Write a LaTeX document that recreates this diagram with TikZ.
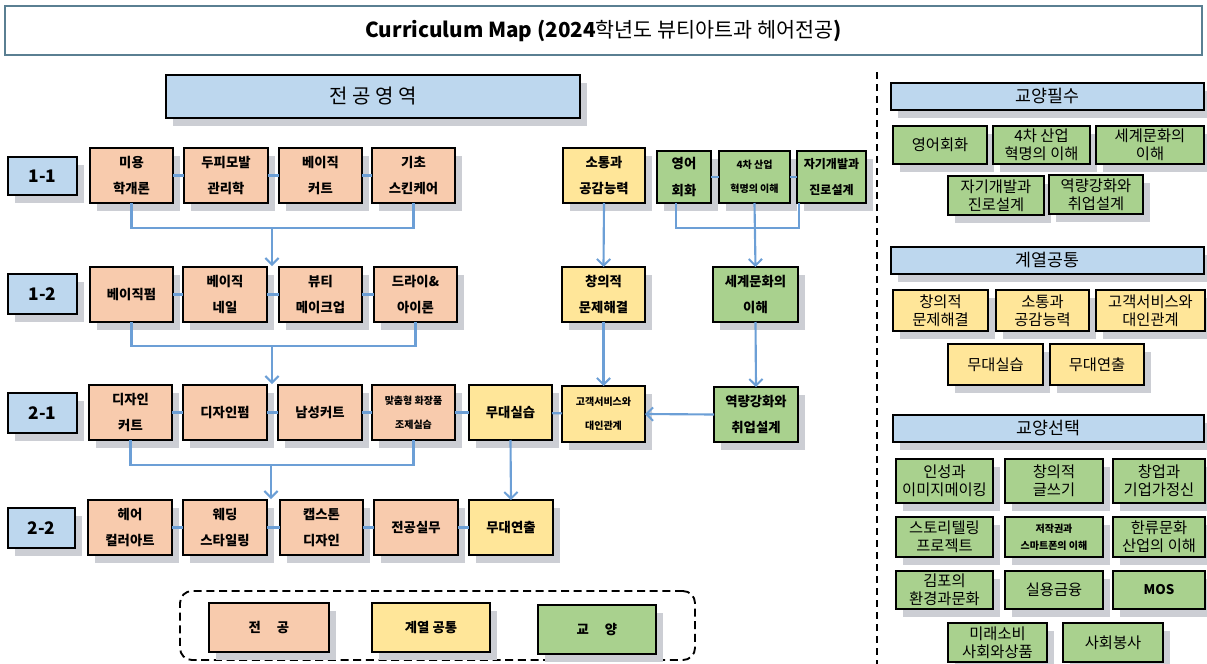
\documentclass[tikz,border=0pt]{standalone}
\usepackage{fontspec}
\setmainfont{Noto Sans CJK KR}
\usetikzlibrary{arrows.meta}
\definecolor{majc}{HTML}{F8CBAD}
\definecolor{comc}{HTML}{FFE699}
\definecolor{libc}{HTML}{A9D18E}
\definecolor{hdrc}{HTML}{BDD7EE}
\definecolor{connc}{HTML}{6C9FD6}
\definecolor{titlec}{HTML}{5A7F92}
\definecolor{shdc}{RGB}{204,206,212}
\newcommand\bxn[7]{\node[#6, minimum width={(#4-#2)*0.75pt}, minimum height={(#5-#3)*0.75pt}] (#1) at ({(#2+#4)/2},{(#3+#5)/2}) {#7};}
\newcommand\bx[7]{\fill[fill=shdc] ({#2+7},{#3+8}) rectangle ({#4+7},{#5+8});\bxn{#1}{#2}{#3}{#4}{#5}{#6}{#7}}
\begin{document}
\begin{tikzpicture}[x=0.75pt,y=-0.75pt,
  box/.style={draw=black, line width=1.3pt, inner sep=1pt, outer sep=0pt, align=center},
  lt/.style={font=\bfseries\fontsize{10}{20}\selectfont},
  ltsmall/.style={font=\bfseries\fontsize{7.5}{18}\selectfont},
  ltmid/.style={font=\bfseries\fontsize{9}{20}\selectfont},
  rt/.style={font=\fontsize{11.5}{13.5}\selectfont},
  maj/.style={box, fill=majc},
  com/.style={box, fill=comc},
  lib/.style={box, fill=libc},
  hdr/.style={box, fill=hdrc},
  lbl/.style={box, fill=hdrc, font=\bfseries\fontsize{13}{15}\selectfont},
  conn/.style={draw=connc, line width=1.6pt},
  arr/.style={-{Straight Barb[length=5pt,width=10pt,line width=1.5pt]}}
]
\useasboundingbox (0,0) rectangle (1207,664);

% title
\bxn{title}{5}{6}{1202}{55}{draw=titlec, line width=1.6pt, fill=white, font=\fontsize{15.5}{18}\selectfont}{{\bfseries Curriculum Map (2024}학년도 뷰티아트과 헤어전공{\bfseries )}}

% major header
\bx{majhdr}{166}{75}{580}{118}{hdr, font=\fontsize{15}{18}\selectfont}{전 공 영 역}

% row labels
\bx{l11}{8}{157}{77}{195}{lbl}{1-1}
\bx{l12}{8}{274}{77}{314}{lbl}{1-2}
\bx{l21}{8}{393}{77}{433}{lbl}{2-1}
\bx{l22}{8}{508}{75}{548}{lbl}{2-2}

% row 1-1
\bx{a1}{90}{148}{173}{203}{maj,lt}{미용\\학개론}
\bx{b1}{184}{148}{268}{203}{maj,lt}{두피모발\\관리학}
\bx{c1}{279}{148}{362}{203}{maj,lt}{베이직\\커트}
\bx{d1}{372}{148}{455}{203}{maj,lt}{기초\\스킨케어}
% row 1-2
\bx{a2}{90}{267}{173}{322}{maj,lt}{베이직펌}
\bx{b2}{183}{267}{267}{322}{maj,lt}{베이직\\네일}
\bx{c2}{279}{267}{362}{322}{maj,lt}{뷰티\\메이크업}
\bx{d2}{374}{267}{457}{322}{maj,lt}{드라이\&\\아이론}
% row 2-1
\bx{a3}{89}{385}{172}{440}{maj,lt}{디자인\\커트}
\bx{b3}{183}{385}{267}{440}{maj,lt}{디자인펌}
\bx{c3}{278}{385}{362}{440}{maj,lt}{남성커트}
\bx{d3}{372}{385}{455}{440}{maj,ltsmall}{맞춤형 화장품\\조제실습}
\bx{prac}{469}{385}{552}{440}{com,lt}{무대실습}
% row 2-2
\bx{a4}{88}{500}{172}{555}{maj,lt}{헤어\\컬러아트}
\bx{b4}{183}{500}{267}{555}{maj,lt}{웨딩\\스타일링}
\bx{c4}{280}{500}{363}{555}{maj,lt}{캡스톤\\디자인}
\bx{d4}{374}{500}{458}{555}{maj,lt}{전공실무}
\bx{dir}{469}{500}{553}{555}{com,lt}{무대연출}

% middle column
\bx{soc}{563}{148}{645}{203}{com,lt}{소통과\\공감능력}
\bx{eng}{657}{151}{711}{203}{lib,lt}{영어\\회화}
\bx{fourth}{719}{151}{790}{203}{lib,ltsmall}{4차 산업\\혁명의 이해}
\bx{self}{797}{151}{866}{203}{lib,ltmid}{자기개발과\\진로설계}
\bx{cre}{562}{267}{645}{322}{com,lt}{창의적\\문제해결}
\bx{world}{713}{267}{798}{322}{lib,lt}{세계문화의\\이해}
\bx{cust}{562}{386}{645}{442}{com,ltsmall}{고객서비스와\\대인관계}
\bx{comp}{714}{387}{798}{442}{lib,lt}{역량강화와\\취업설계}

% connectors rows
\draw[conn] (a1) -- (b1); \draw[conn] (b1) -- (c1); \draw[conn] (c1) -- (d1);
\draw[conn] (a2) -- (b2); \draw[conn] (b2) -- (c2); \draw[conn] (c2) -- (d2);
\draw[conn] (a3) -- (b3); \draw[conn] (b3) -- (c3); \draw[conn] (c3) -- (d3);
\draw[conn] (d3) -- (prac); \draw[conn] (prac) -- (cust);
\draw[conn] (a4) -- (b4); \draw[conn] (b4) -- (c4); \draw[conn] (c4) -- (d4); \draw[conn] (d4) -- (dir);
\draw[conn] (eng) -- (fourth); \draw[conn] (fourth) -- (self);

% brackets
\coordinate (m1) at (272,228); \coordinate (e1) at (272,266);
\draw[conn] (a1.south) |- (m1) -| (d1.south);
\draw[conn,arr] (m1) -- (e1);
\coordinate (m2) at (272,346); \coordinate (e2) at (272,384);
\draw[conn] (a2.south) |- (m2) -| (d2.south);
\draw[conn,arr] (m2) -- (e2);
\coordinate (m3) at (271,465); \coordinate (e3) at (271,499);
\draw[conn] (a3.south) |- (m3) -| (d3.south);
\draw[conn,arr] (m3) -- (e3);
\coordinate (m4) at (754,228);
\draw[conn] ([xshift=-6pt]eng.south) |- (m4) -| ([xshift=1.5pt]self.south west);
\draw[conn,arr] (fourth.south) -- (world.north);
\draw[conn,arr] (soc.south) -- (cre.north);
\draw[conn,arr] (cre.south) -- (cust.north);
\draw[conn,arr] (world.south) -- (comp.north);
\draw[conn,arr] (comp.west) -- (cust.east);
\draw[conn,arr] (prac.south) -- (dir.north);

% legend
\bxn{legend}{180}{591}{695}{660}{draw=black, line width=1.4pt, dash pattern=on 6pt off 3.5pt, rounded corners=9pt}{}
\bx{lgmaj}{209}{603}{329}{652}{maj,lt}{전\hspace{1.2em}공}
\bx{lgcom}{372}{603}{490}{652}{com,lt}{계열 공통}
\bx{lglib}{538}{605}{656}{654}{lib,lt}{교\hspace{1.2em}양}

% divider
\coordinate (dv1) at (877,72); \coordinate (dv2) at (877,664);
\draw[line width=1.2pt, dash pattern=on 5pt off 4pt] (dv1) -- (dv2);

% right panel
\bx{h1}{891}{83}{1204}{110}{hdr, font=\fontsize{13}{15}\selectfont}{교양필수}
\bx{r1}{893}{126}{987}{164}{lib,rt}{영어회화}
\bx{r2}{993}{126}{1090}{164}{lib,rt}{4차 산업\\혁명의 이해}
\bx{r3}{1096}{126}{1204}{164}{lib,rt}{세계문화의\\이해}
\bx{r4}{948}{176}{1044}{215}{lib,rt}{자기개발과\\진로설계}
\bx{r5}{1049}{175}{1143}{214}{lib,rt}{역량강화와\\취업설계}

\bx{h2}{891}{247}{1204}{274}{hdr, font=\fontsize{13}{15}\selectfont}{계열공통}
\bx{s1}{893}{290}{988}{331}{com,rt}{창의적\\문제해결}
\bx{s2}{996}{290}{1089}{331}{com,rt}{소통과\\공감능력}
\bx{s3}{1096}{290}{1205}{331}{com,rt}{고객서비스와\\대인관계}
\bx{s4}{948}{344}{1043}{385}{com,rt}{무대실습}
\bx{s5}{1050}{344}{1144}{385}{com,rt}{무대연출}

\bx{h3}{893}{415}{1204}{442}{hdr, font=\fontsize{13}{15}\selectfont}{교양선택}
\bx{t1}{896}{459}{993}{503}{lib,rt}{인성과\\이미지메이킹}
\bx{t2}{1005}{459}{1103}{503}{lib,rt}{창의적\\글쓰기}
\bx{t3}{1113}{459}{1205}{503}{lib,rt}{창업과\\기업가정신}
\bx{t4}{896}{517}{993}{557}{lib,rt}{스토리텔링\\프로젝트}
\bx{t5}{1005}{517}{1103}{557}{lib,font=\bfseries\fontsize{7.5}{13}\selectfont}{저작권과\\스마트폰의 이해}
\bx{t6}{1113}{517}{1205}{557}{lib,rt}{한류문화\\산업의 이해}
\bx{t7}{896}{571}{993}{609}{lib,rt}{김포의\\환경과문화}
\bx{t8}{1005}{571}{1103}{609}{lib,rt}{실용금융}
\bx{t9}{1113}{571}{1205}{609}{lib,font=\bfseries\fontsize{10}{12}\selectfont}{MOS}
\bx{t10}{948}{623}{1047}{662}{lib,rt}{미래소비\\사회와상품}
\bx{t11}{1063}{623}{1163}{662}{lib,rt}{사회봉사}
\end{tikzpicture}
\end{document}
